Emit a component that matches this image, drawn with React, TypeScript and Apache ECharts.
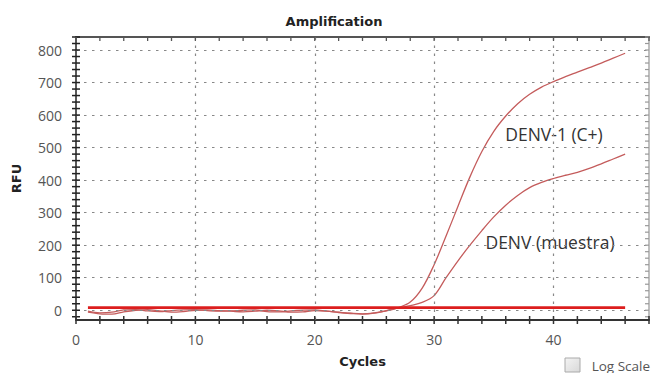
import React, { useEffect, useRef } from "react";
import * as echarts from "echarts";

const cycles = [1, 2, 3, 4, 5, 6, 7, 8, 9, 10, 11, 12, 13, 14, 15, 16, 17, 18, 19, 20, 21, 22, 23, 24, 25, 26, 27, 28, 29, 30, 31, 32, 33, 34, 35, 36, 37, 38, 39, 40, 41, 42, 43, 44, 45, 46];
const denv1 = [-3, -8, -6, 1, 2, -2, -4, -1, 1, 2, -1, -3, -2, 0, 1, -4, -5, -2, 0, 1, -3, -6, -9, -11, -8, -2, 8, 25, 68, 140, 228, 320, 410, 488, 550, 597, 635, 664, 686, 703, 718, 732, 746, 760, 775, 790];
const denvMuestra = [-6, -11, -12, -5, 0, 2, -2, -6, -4, 0, 1, -1, -3, -5, -3, 0, -2, -6, -5, -1, -3, -7, -10, -12, -9, -1, 7, 14, 24, 45, 100, 152, 200, 245, 287, 323, 353, 377, 393, 405, 415, 424, 436, 450, 465, 480];
const thresholdCycles = [1, 46];
const thresholdValues = [8, 8];
const yLabelValues = [0, 100, 200, 300, 400, 500, 600, 700, 800];
const xGridValues = [10, 20, 30, 40];

const X_MIN = 0;
const X_MAX = 48;
const Y_MIN = -30;
const Y_MAX = 840;

const yTickValues: number[] = [];
for (let v = -20; v <= 840; v += 20) yTickValues.push(v);
const xTickValues: number[] = [];
for (let v = 0; v <= 48; v += 2) xTickValues.push(v);

const labelFont = { color: "#555", fontSize: 14, fontFamily: "Open Sans" };
const nameFont = { color: "#222", fontSize: 13, fontWeight: "bold", fontFamily: "DejaVu Sans" };

export default function App() {
  const ref = useRef<HTMLDivElement>(null);
  useEffect(() => {
    if (!ref.current) return;
    const chart = echarts.init(ref.current, undefined, { renderer: "svg" });
    const baseX = { type: "value", min: X_MIN, max: X_MAX, splitLine: { show: false } };
    const baseY = { type: "value", min: Y_MIN, max: Y_MAX, splitLine: { show: false } };
    const curveStyle = { color: "#c45c5c", width: 1.3 };
    const tickItem = (x1: number, y1: number, x2: number, y2: number, color: string, w: number) => ({
      type: "line",
      shape: { x1, y1, x2, y2 },
      style: { stroke: color, lineWidth: w },
      z2: 100,
    });
    chart.setOption({
      animation: false,
      backgroundColor: "#ffffff",
      grid: { left: 76, right: 7, top: 37, bottom: 46, containLabel: false },
      xAxis: [
        {
          ...baseX,
          interval: 10,
          position: "bottom",
          axisLine: { show: true, onZero: false, lineStyle: { color: "#333", width: 2 } },
          axisTick: { show: false },
          axisLabel: { margin: 12, showMaxLabel: false, ...labelFont },
          name: "Cycles",
          nameLocation: "middle",
          nameGap: 35,
          nameTextStyle: nameFont,
        },
        {
          ...baseX,
          position: "top",
          axisLine: { show: true, onZero: false, lineStyle: { color: "#555", width: 2 } },
          axisTick: { show: false },
          axisLabel: { show: false },
        },
      ],
      yAxis: [
        {
          ...baseY,
          position: "left",
          axisLine: { show: true, onZero: false, lineStyle: { color: "#222", width: 1.5 } },
          axisTick: { show: false },
          axisLabel: { customValues: yLabelValues, margin: 14, ...labelFont },
          name: "RFU",
          nameLocation: "middle",
          nameGap: 53,
          nameTextStyle: nameFont,
        },
        {
          ...baseY,
          position: "right",
          axisLine: { show: true, onZero: false, lineStyle: { color: "#aaa", width: 1.5 } },
          axisTick: { show: false },
          axisLabel: { show: false },
        },
      ],
      series: [
        {
          type: "line",
          name: "grid",
          data: [],
          silent: true,
          z: 1,
          markLine: {
            silent: true,
            symbol: "none",
            label: { show: false },
            lineStyle: { color: "#888", width: 1.2, type: [2.5, 5.5] },
            data: [
              ...yLabelValues.map((v) => ({ yAxis: v })),
              ...xGridValues.map((v) => ({ xAxis: v })),
            ],
          },
        },
        {
          type: "custom",
          name: "yTicks",
          silent: true,
          clip: false,
          z: 10,
          coordinateSystem: "cartesian2d",
          data: yTickValues.map((v) => [X_MIN, v]),
          encode: { x: 0, y: 1 },
          renderItem: (params: any, api: any) => {
            const v = api.value(1);
            const pl = api.coord([X_MIN, v]);
            const pr = api.coord([X_MAX, v]);
            return {
              type: "group",
              children: [
                tickItem(pl[0] - 4, pl[1], pl[0] + 4, pl[1], "#222", 1.5),
                tickItem(pr[0] - 4, pr[1], pr[0], pr[1], "#999", 1.2),
              ],
            };
          },
        },
        {
          type: "custom",
          name: "xTicks",
          silent: true,
          clip: false,
          z: 10,
          coordinateSystem: "cartesian2d",
          data: xTickValues.map((v) => [v, Y_MIN]),
          encode: { x: 0, y: 1 },
          renderItem: (params: any, api: any) => {
            const v = api.value(0);
            const pb = api.coord([v, Y_MIN]);
            const pt = api.coord([v, Y_MAX]);
            return {
              type: "group",
              children: [
                tickItem(pb[0], pb[1] - 4, pb[0], pb[1] + 4, "#333", 1.5),
                tickItem(pt[0], pt[1], pt[0], pt[1] + 4, "#555", 1.3),
              ],
            };
          },
        },
        {
          type: "line",
          name: "DENV-1 (C+)",
          data: cycles.map((c, i) => [c, denv1[i]]),
          showSymbol: false,
          smooth: 0.35,
          lineStyle: curveStyle,
          itemStyle: { color: curveStyle.color },
          z: 3,
        },
        {
          type: "line",
          name: "DENV (muestra)",
          data: cycles.map((c, i) => [c, denvMuestra[i]]),
          showSymbol: false,
          smooth: 0.35,
          lineStyle: curveStyle,
          itemStyle: { color: curveStyle.color },
          z: 3,
        },
        {
          type: "line",
          name: "Threshold",
          data: thresholdCycles.map((c, i) => [c, thresholdValues[i]]),
          showSymbol: false,
          lineStyle: { color: "#dc1e1e", width: 2.6 },
          itemStyle: { color: "#dc1e1e" },
          z: 4,
        },
      ],
      graphic: [
        {
          type: "text",
          x: 334,
          y: 21,
          style: { text: "Amplification", textAlign: "center", textVerticalAlign: "middle", fill: "#222", font: "bold 13px 'DejaVu Sans'" },
        },
        {
          type: "text",
          x: 554,
          y: 134,
          style: { text: "DENV-1 (C+)", textAlign: "center", textVerticalAlign: "middle", fill: "#333", font: "17.5px 'Open Sans'" },
        },
        {
          type: "text",
          x: 550,
          y: 242,
          style: { text: "DENV (muestra)", textAlign: "center", textVerticalAlign: "middle", fill: "#333", font: "17.5px 'Open Sans'" },
        },
        {
          type: "rect",
          shape: { x: 565, y: 358, width: 15, height: 14 },
          style: {
            fill: new echarts.graphic.LinearGradient(0, 0, 1, 1, [
              { offset: 0, color: "#f4f4f4" },
              { offset: 1, color: "#d8d8d8" },
            ]),
            stroke: "#aaa",
            lineWidth: 1,
          },
        },
        {
          type: "text",
          x: 650,
          y: 366,
          style: { text: "Log Scale", textAlign: "right", textVerticalAlign: "middle", fill: "#555", font: "13.5px 'Open Sans'" },
        },
      ],
    });
    return () => chart.dispose();
  }, []);
  return <div ref={ref} style={{ position: "fixed", left: 0, top: 0, width: 656, height: 373 }} />;
}
